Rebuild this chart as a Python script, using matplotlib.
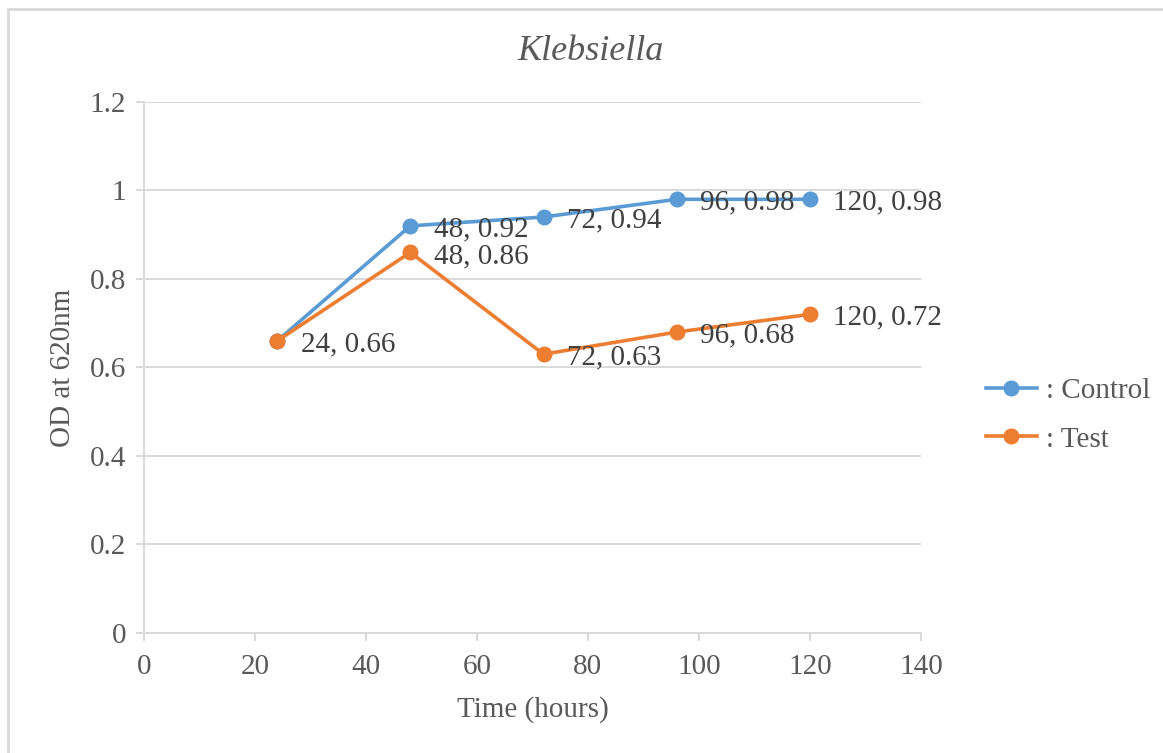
import matplotlib.pyplot as plt
from matplotlib.lines import Line2D

plt.rcParams['font.family'] = ['Liberation Serif', 'DejaVu Serif']

hours = [24, 48, 72, 96, 120]
control = [0.66, 0.92, 0.94, 0.98, 0.98]
test = [0.66, 0.86, 0.63, 0.68, 0.72]

grey = '#595959'
grid = '#d9d9d9'

fig = plt.figure(figsize=(11.63, 7.53), dpi=100)
ax = fig.add_axes([0.1238, 0.1594, 0.668, 0.7052])

# chart frame: only the top and left edges fall inside the image
fig.lines.append(Line2D([0.0065, 0.0065, 1.0], [0.0, 0.9885, 0.9885], transform=fig.transFigure,
                        color=grid, lw=2))

ax.plot(hours, control, color='#5b9bd5', lw=2.6, marker='o', ms=10.5, label=': Control', zorder=3)
ax.plot(hours, test, color='#ed7d31', lw=2.6, marker='o', ms=10.5, label=': Test', zorder=4)

for x, y in zip(hours, control):
    if x == 24:
        continue
    ax.annotate(f'{x}, {y:g}', (x, y), xytext=(17, -2.5), textcoords='offset points',
                ha='left', va='center', fontsize=21, color='#404040', zorder=5)
for x, y in zip(hours, test):
    ax.annotate(f'{x}, {y:g}', (x, y), xytext=(17, -2.5), textcoords='offset points',
                ha='left', va='center', fontsize=21, color='#404040', zorder=5)

ax.set_xlim(0, 140)
ax.set_ylim(0, 1.2)
ax.set_xticks(range(0, 141, 20))
ax.set_yticks([0, 0.2, 0.4, 0.6, 0.8, 1, 1.2])
ax.set_yticklabels(['0', '0.2', '0.4', '0.6', '0.8', '1', '1.2'])
ax.grid(axis='y', color=grid, lw=1.4)
ax.set_axisbelow(True)
for s in ['top', 'right']:
    ax.spines[s].set_visible(False)
for s in ['left', 'bottom']:
    ax.spines[s].set_color(grid)
    ax.spines[s].set_linewidth(1.4)
ax.tick_params(colors=grid, labelcolor=grey, labelsize=21, length=6, width=1.4)
ax.tick_params(axis='x', pad=9)
ax.tick_params(axis='y', pad=7)

ax.set_xlabel('Time (hours)', fontsize=21, color=grey, labelpad=12)
ax.set_ylabel('OD at 620nm', fontsize=21, color=grey, labelpad=10)
fig.text(0.508, 0.931, 'Klebsiella', fontsize=26, style='italic', color=grey,
         ha='center', va='center')

ax.legend(loc='center left', bbox_to_anchor=(1.05, 0.41), frameon=False, fontsize=21,
          labelcolor=grey, handlelength=1.75, handletextpad=0.3, labelspacing=0.75)

fig.savefig('out.png', dpi=100)
